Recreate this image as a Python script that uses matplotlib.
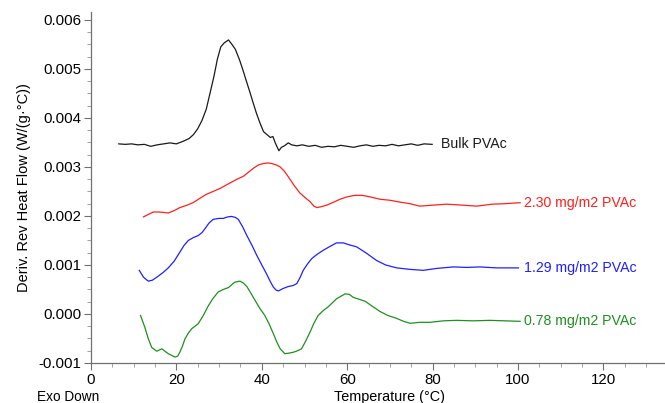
import matplotlib
matplotlib.use("Agg")
import matplotlib.pyplot as plt
from matplotlib.ticker import MultipleLocator

plt.rcParams['font.family'] = ['Liberation Sans', 'DejaVu Sans']

#### data ####
bulk_T = [6.5, 8, 9.5, 11, 12.5, 14, 15.5, 17, 18.5, 20, 21.5, 23, 24, 25, 26, 27, 28, 28.8,
          29.6, 30.4, 31.2, 32.2, 33, 33.8, 34.8, 35.6, 36.5, 37.3, 38, 38.8, 39.6, 40.4, 41.2,
          42, 42.6, 43.2, 44, 44.6, 45.3, 46.2, 47, 48.2, 49.5, 51, 52.5, 54, 55.5, 57, 58.5,
          60, 61.5, 63, 64.5, 66, 67.5, 69, 70.5, 72, 73.5, 75, 76.5, 78, 79.9]
bulk_v = [0.00347, 0.00346, 0.00347, 0.00345, 0.00346, 0.00342, 0.00345, 0.00347, 0.00349,
          0.00347, 0.00352, 0.00358, 0.00366, 0.00378, 0.00395, 0.00418, 0.00455, 0.00485,
          0.00520, 0.00545, 0.00553, 0.00559, 0.00550, 0.00540, 0.00518, 0.00497, 0.00472,
          0.00450, 0.00430, 0.00408, 0.00389, 0.00372, 0.00366, 0.00360, 0.00362, 0.00348,
          0.00333, 0.00340, 0.00343, 0.00349, 0.00345, 0.00343, 0.00345, 0.00342, 0.00344,
          0.00340, 0.00342, 0.00341, 0.00344, 0.00342, 0.00340, 0.00343, 0.00345, 0.00342,
          0.00344, 0.00343, 0.00346, 0.00343, 0.00345, 0.00347, 0.00344, 0.00347, 0.00346]

red_T = [12.3, 13.4, 14.6, 16, 18.1, 19.5, 20.8, 22.5, 23.9, 25.5, 27, 28.6, 30.2, 32.5, 34,
         35.7, 37, 38, 39.2, 40.4, 41.4, 42.3, 43.4, 44.3, 45.3, 46.2, 47.5, 48.9, 50.2, 51.3,
         52.2, 52.9, 54, 55.2, 56.8, 58.3, 60, 61.8, 63.5, 65.3, 67.7, 70, 72.5, 74.7, 77, 80,
         83.3, 87, 90.3, 94, 97, 100.5]
red_v = [0.00198, 0.00203, 0.00208, 0.00208, 0.00206, 0.00211, 0.00217, 0.00222, 0.00227,
         0.00236, 0.00244, 0.00250, 0.00256, 0.00267, 0.00274, 0.00281, 0.00290, 0.00297,
         0.00304, 0.00307, 0.00308, 0.00307, 0.00304, 0.00300, 0.00291, 0.00280, 0.00263,
         0.00247, 0.00237, 0.00229, 0.00220, 0.00217, 0.00219, 0.00222, 0.00228, 0.00234,
         0.00239, 0.00242, 0.00242, 0.00239, 0.00234, 0.00232, 0.00228, 0.00225, 0.00220,
         0.00222, 0.00224, 0.00222, 0.00220, 0.00224, 0.00225, 0.00227]

blue_T = [11.3, 12.3, 13.4, 14.4, 15.4, 16.8, 18.1, 19.5, 20.8, 21.8, 22.8, 24, 25.1, 26, 26.7,
          27.6, 28.6, 30, 31, 32, 32.9, 33.8, 34.5, 35.5, 36.5, 37.7, 38.8, 40, 41.1, 42, 42.7,
          43.3, 43.9, 45, 46.2, 47.3, 48.2, 49, 49.7, 50.7, 51.7, 53, 54.4, 56, 57.5, 59.1,
          60.5, 62.2, 64.5, 66.9, 69, 71.6, 74.7, 77.8, 81, 84.9, 88, 91.1, 95, 100.1]
blue_v = [0.00089, 0.00075, 0.00067, 0.00069, 0.00075, 0.00084, 0.00094, 0.00108, 0.00126,
          0.00140, 0.00150, 0.00156, 0.00160, 0.00166, 0.00174, 0.00185, 0.00193, 0.00195,
          0.00195, 0.00198, 0.00199, 0.00197, 0.00193, 0.00178, 0.00160, 0.00140, 0.00120,
          0.00100, 0.00082, 0.00066, 0.00055, 0.00049, 0.00047, 0.00052, 0.00056, 0.00058,
          0.00062, 0.00075, 0.00089, 0.00102, 0.00113, 0.00122, 0.00130, 0.00138, 0.00145,
          0.00145, 0.00141, 0.00137, 0.00124, 0.00109, 0.00100, 0.00094, 0.00091, 0.00089,
          0.00093, 0.00096, 0.00095, 0.00096, 0.00094, 0.00094]

green_T = [11.6, 12.6, 13.4, 14.2, 15.4, 16.6, 17.3, 18.1, 19.7, 20.3, 20.8, 21.4, 22, 22.8,
           23.6, 25.1, 26.3, 27.5, 28.6, 29.8, 31, 32.2, 33, 33.7, 34.9, 35.7, 36.5, 37.4,
           38.4, 39.5, 40.7, 41.7, 42.7, 43.5, 44.3, 45.4, 46.3, 47.4, 48.4, 49.3, 50.3, 51.3,
           52.2, 53.2, 54.4, 55.6, 57.5, 59.5, 60.5, 61.4, 62.8, 64.2, 66, 67.7, 69.5, 71.6,
           73.2, 74.7, 77, 79.4, 82.5, 85.6, 89.5, 93.4, 97, 100.5]
green_v = [-0.00003, -0.00027, -0.00050, -0.00068, -0.00076, -0.00071, -0.00076, -0.00081,
           -0.00088, -0.00086, -0.00078, -0.00066, -0.00051, -0.00039, -0.00030, -0.00020,
           -0.00003, 0.00017, 0.00032, 0.00045, 0.00050, 0.00054, 0.00060, 0.00065, 0.00067,
           0.00063, 0.00056, 0.00043, 0.00028, 0.00012, -0.00003, -0.00020, -0.00040,
           -0.00057, -0.00071, -0.00081, -0.00080, -0.00078, -0.00075, -0.00071, -0.00055,
           -0.00037, -0.00019, -0.00003, 0.00007, 0.00015, 0.00031, 0.00041, 0.00040, 0.00034,
           0.00030, 0.00026, 0.00015, 0.00005, -0.00003, -0.00009, -0.00015, -0.00019,
           -0.00017, -0.00017, -0.00014, -0.00013, -0.00014, -0.00013, -0.00014, -0.00015]

names = ["Bulk PVAc", "2.30 mg/m2 PVAc", "1.29 mg/m2 PVAc", "0.78 mg/m2 PVAc"]
colors = ["#1a1a1a", "#ff2020", "#2020ff", "#1f8f1f"]
curves = [(bulk_T, bulk_v), (red_T, red_v), (blue_T, blue_v), (green_T, green_v)]
label_gap = [2.1, 0.9, 1.3, 0.9]   # space between curve end and its name (deg C)


#### figure ####
fig = plt.figure(figsize=(6.65, 4.03), dpi=100)
W, H = 665.0, 403.0
ax = fig.add_axes([91 / W, (H - 363) / H, (W - 91) / W, (363 - 12) / H])

for (T, v), c, name, gap in zip(curves, colors, names, label_gap):
  ax.plot(T, v, color=c, linewidth=0.9)
  ax.text(T[-1] + gap, v[-1], name, color=c, fontsize=10.2, va='center', ha='left')

ax.set_xlim(0, (W - 91) / 4.27)
ax.set_ylim(-0.001, 0.00616)
ax.xaxis.set_major_locator(MultipleLocator(20))
ax.xaxis.set_minor_locator(MultipleLocator(5))
ax.yaxis.set_major_locator(MultipleLocator(0.001))
ax.yaxis.set_minor_locator(MultipleLocator(0.00025))
ax.yaxis.set_major_formatter(plt.FuncFormatter(lambda v, p: "%.3f" % v))

for s in ['top', 'right']:
  ax.spines[s].set_visible(False)
for s in ['left', 'bottom']:
  ax.spines[s].set_color('#707070')
  ax.spines[s].set_linewidth(0.9)

ax.tick_params(which='major', direction='out', length=5, color='#707070', labelsize=10.8, pad=2)
ax.tick_params(which='minor', direction='out', length=3, color='#909090')

ax.set_ylabel("Deriv. Rev Heat Flow (W/(g\u00b7\u00b0C))", fontsize=10.5, labelpad=5)
fig.text(37 / W, 1 - 397 / H, "Exo Down", fontsize=9.8, ha='left', va='center')
fig.text(390 / W, 1 - 397 / H, "Temperature (\u00b0C)", fontsize=10.4, ha='center', va='center')

fig.savefig("out.png", dpi=100)
